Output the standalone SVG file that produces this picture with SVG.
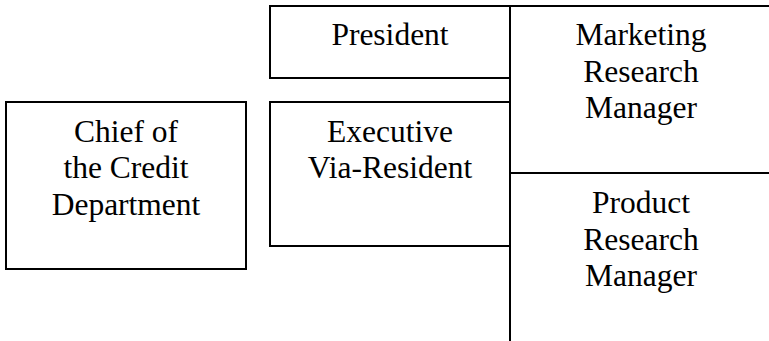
<svg xmlns="http://www.w3.org/2000/svg" width="769" height="341" viewBox="0 0 769 341">
<style>
.box{fill:#fff;stroke:#000;stroke-width:2}
.ln{fill:none;stroke:#000;stroke-width:2}
text{font-family:"Liberation Serif","Times New Roman",serif;font-size:31.5px;fill:#000;text-anchor:middle}
</style>
<rect width="769" height="341" fill="#fff"/>
<g id="chief">
<rect class="box" x="6" y="102" width="240" height="167"/>
<text x="126" y="141.5">Chief of</text>
<text x="126" y="178">the Credit</text>
<text x="126" y="214.5">Department</text>
</g>
<g id="president">
<rect class="box" x="270" y="6" width="240" height="72"/>
<text x="390" y="45">President</text>
</g>
<g id="executive">
<rect class="box" x="270" y="102" width="240" height="144"/>
<text x="390" y="141.5">Executive</text>
<text x="390" y="178">Via-Resident</text>
</g>
<g id="marketing">
<path class="ln" d="M510 6H769M510 6V173"/>
<text x="641" y="45">Marketing</text>
<text x="641" y="81.5">Research</text>
<text x="641" y="118">Manager</text>
</g>
<g id="product">
<path class="ln" d="M510 173H769M510 173V341"/>
<text x="641" y="213">Product</text>
<text x="641" y="249.5">Research</text>
<text x="641" y="286">Manager</text>
</g>
<g id="connectors"></g>
</svg>
